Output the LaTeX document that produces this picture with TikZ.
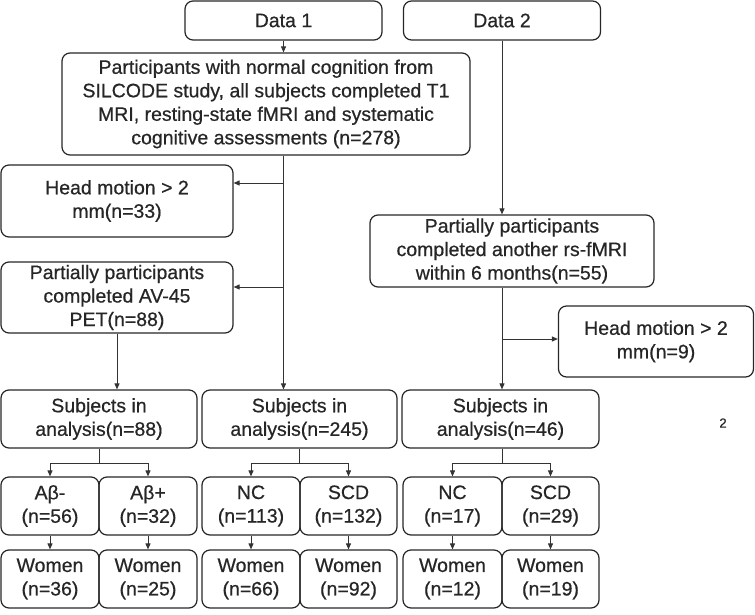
\documentclass[tikz,border=0pt]{standalone}
\usepackage{fontspec}
\setmainfont{Liberation Sans}[FakeBold=0.6]
\usetikzlibrary{arrows.meta}
\tikzset{
  box/.style={draw=black!85, line width=1.2pt, rounded corners=8pt, align=center,
    inner sep=0pt, font=\fontsize{19.5}{23.5}\selectfont, text=black!85},
  arr/.style={draw=black!80, line width=0.9pt, -{Triangle[length=6pt,width=5pt]}},
  ln/.style={draw=black!80, line width=0.9pt}
}
\begin{document}
\begin{tikzpicture}[x=1pt,y=-1pt]
\useasboundingbox (0,0) rectangle (755,615);
% top
\node[box, minimum width=197pt, minimum height=39pt] (d1) at (283.5,20.5) {Data 1};
\node[box, minimum width=197pt, minimum height=39pt] (d2) at (502,20.5) {Data 2};
\node[box, minimum width=408pt, minimum height=102pt] (big) at (266,104)
  {Participants with normal cognition from\\SILCODE study, all subjects completed T1\\MRI, resting-state fMRI and systematic\\cognitive assessments (n=278)};
\node[box, minimum width=232pt, minimum height=72pt] (hm1) at (117,201) {Head motion > 2\\mm(n=33)};
\node[box, minimum width=232pt, minimum height=71pt] (pet) at (117,297.5) {Partially participants\\completed AV-45\\PET(n=88)};
\node[box, minimum width=284pt, minimum height=72pt] (rs) at (512,251) {Partially participants\\completed another rs-fMRI\\within 6 months(n=55)};
\node[box, minimum width=195pt, minimum height=71pt] (hm2) at (656,341.5) {Head motion > 2\\mm(n=9)};
% subjects
\node[box, minimum width=196pt, minimum height=58pt] (sa) at (99,419) {Subjects in\\analysis(n=88)};
\node[box, minimum width=195pt, minimum height=58pt] (sb) at (299.5,419) {Subjects in\\analysis(n=245)};
\node[box, minimum width=197pt, minimum height=58pt] (sc) at (500.5,419) {Subjects in\\analysis(n=46)};
% level 3
\node[box, minimum width=98pt, minimum height=58pt] (ga1) at (50,506) {Aβ-\\(n=56)};
\node[box, minimum width=98pt, minimum height=58pt] (ga2) at (148,506) {Aβ+\\(n=32)};
\node[box, minimum width=98pt, minimum height=58pt] (gb1) at (251,506) {NC\\(n=113)};
\node[box, minimum width=97pt, minimum height=58pt] (gb2) at (348.5,506) {SCD\\(n=132)};
\node[box, minimum width=99pt, minimum height=58pt] (gc1) at (452.5,506) {NC\\(n=17)};
\node[box, minimum width=97pt, minimum height=58pt] (gc2) at (550.5,506) {SCD\\(n=29)};
% level 4
\node[box, minimum width=98pt, minimum height=58pt] (wa1) at (50,579) {Women\\(n=36)};
\node[box, minimum width=98pt, minimum height=58pt] (wa2) at (148,579) {Women\\(n=25)};
\node[box, minimum width=98pt, minimum height=58pt] (wb1) at (251,579) {Women\\(n=66)};
\node[box, minimum width=97pt, minimum height=58pt] (wb2) at (348.5,579) {Women\\(n=92)};
\node[box, minimum width=99pt, minimum height=58pt] (wc1) at (452.5,579) {Women\\(n=12)};
\node[box, minimum width=97pt, minimum height=58pt] (wc2) at (550.5,579) {Women\\(n=19)};
\node[font=\fontsize{13}{15}\selectfont, text=black!85] (two) at (723,423) {2};
% connectors
\draw[arr] (d1.south) -- (d1.south |- big.north);
\draw[arr] (d1.south |- big.south) -- (d1.south |- sb.north);
\coordinate (j1) at (283.5,183);
\coordinate (j2) at (283.5,287);
\draw[arr] (j1) -- (j1 -| hm1.east);
\draw[arr] (j2) -- (j2 -| pet.east);
\draw[arr] (pet.south) -- (pet.south |- sa.north);
\draw[arr] (d2.south) -- (d2.south |- rs.north);
\draw[arr] (d2.south |- rs.south) -- (d2.south |- sc.north);
\coordinate (j3) at (502,339);
\draw[arr] (j3) -- (j3 -| hm2.west);
% branches
\coordinate (ba) at (99,463);
\coordinate (bb) at (299.5,463);
\coordinate (bc) at (502,463);
\draw[ln] (sa.south) -- (ba);
\draw[arr] (ba) -| (ga1.north);
\draw[arr] (ba) -| (ga2.north);
\draw[ln] (sb.south) -- (bb);
\draw[arr] (bb) -| (gb1.north);
\draw[arr] (bb) -| (gb2.north);
\draw[ln] (sc.south -| bc) -- (bc);
\draw[arr] (bc) -| (gc1.north);
\draw[arr] (bc) -| (gc2.north);
\foreach \a/\b in {ga1/wa1,ga2/wa2,gb1/wb1,gb2/wb2,gc1/wc1,gc2/wc2}
  \draw[arr] (\a.south) -- (\b.north);
\end{tikzpicture}
\end{document}
